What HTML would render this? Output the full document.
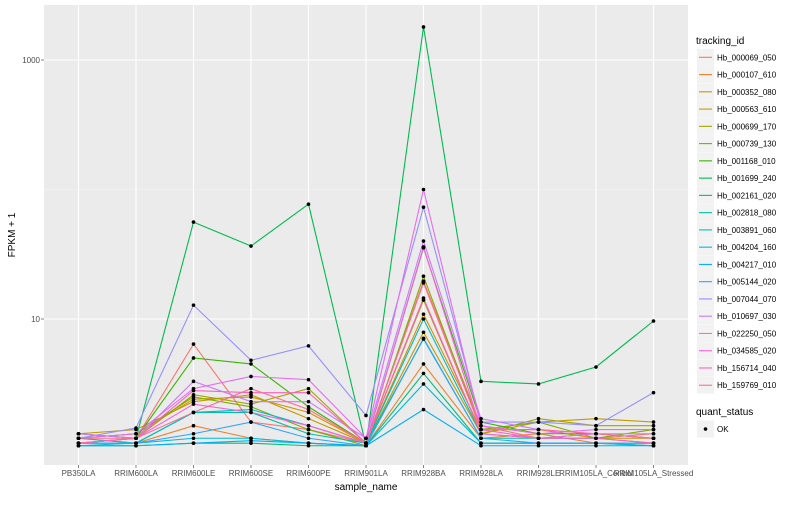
<!DOCTYPE html>
<html><head><meta charset="utf-8"><style>
body{margin:0;background:#fff;font-family:"Liberation Sans",sans-serif}
svg text{font-family:"Liberation Sans",sans-serif}
</style></head><body>
<svg id="c" width="800" height="500" xmlns="http://www.w3.org/2000/svg"></svg>
<script>
const categories=["PB350LA","RRIM600LA","RRIM600LE","RRIM600SE","RRIM600PE","RRIM901LA","RRIM928BA","RRIM928LA","RRIM928LE","RRIM105LA_Control","RRIM105LA_Stressed"];
const seriesNames=["Hb_000069_050","Hb_000107_610","Hb_000352_080","Hb_000563_610","Hb_000699_170","Hb_000739_130","Hb_001168_010","Hb_001699_240","Hb_002161_020","Hb_002818_080","Hb_003891_060","Hb_004204_160","Hb_004217_010","Hb_005144_020","Hb_007044_070","Hb_010697_030","Hb_022250_050","Hb_034585_020","Hb_156714_040","Hb_159769_010"];
const s0=[1.3,1.2,6.4,1.6,1.4,1.1,19.6,1.5,1.2,1.2,1.3];
const s1=[1.2,1.1,1.5,1.2,1.1,1.05,4.5,1.2,1.3,1.1,1.1];
const s2=[1.2,1.3,2.4,2.5,1.9,1.1,10.9,1.4,1.4,1.2,1.2];
const s3=[1.3,1.4,2.3,2.6,1.7,1.1,7.9,1.3,1.6,1.7,1.6];
const s4=[1.1,1.2,2.6,2.2,2.9,1.1,14,1.3,1.7,1.5,1.5];
const s5=[1.2,1.3,2.5,2.1,1.4,1.05,21.4,1.4,1.6,1.2,1.4];
const s6=[1.3,1.2,5.0,4.5,2.1,1.1,35.5,1.6,1.3,1.3,1.2];
const s7=[1.1,1.2,56,36.6,77,1.05,1800,3.3,3.15,4.26,9.65];
const s8=[1.05,1.05,1.1,1.1,1.05,1.05,3.8,1.1,1.1,1.1,1.05];
const s9=[1.1,1.1,1.9,1.9,1.3,1.1,7.0,1.2,1.2,1.2,1.1];
const s10=[1.2,1.1,1.9,2.0,1.5,1.1,10,1.3,1.2,1.3,1.2];
const s11=[1.05,1.1,1.2,1.2,1.1,1.05,3.15,1.1,1.1,1.1,1.05];
const s12=[1.05,1.05,1.1,1.15,1.1,1.05,2.0,1.05,1.05,1.05,1.05];
const s13=[1.1,1.1,1.3,1.6,1.2,1.05,7.1,1.2,1.1,1.1,1.1];
const s14=[1.2,1.44,12.8,4.8,6.2,1.8,73,1.6,1.6,1.5,2.7];
const s15=[1.3,1.2,3.3,2.3,2.3,1.2,40,1.7,1.4,1.3,1.3];
const s16=[1.2,1.3,2.9,3.6,3.4,1.2,100,1.5,1.3,1.4,1.4];
const s17=[1.1,1.2,2.2,1.9,1.5,1.1,36,1.4,1.2,1.3,1.2];
const s18=[1.1,1.2,2.8,2.7,2.7,1.1,14.5,1.3,1.2,1.2,1.1];
const s19=[1.2,1.2,1.9,2.9,2.0,1.1,19,1.4,1.4,1.3,1.2];
const seriesValues=[s0,s1,s2,s3,s4,s5,s6,s7,s8,s9,s10,s11,s12,s13,s14,s15,s16,s17,s18,s19];
const yTickValues=[10,1000];
const yTickLabels=["10","1000"];
const yMinorValues=[100];
const colors=["#F8766D","#EA8331","#D89000","#C09B00","#A3A500","#7CAE00","#39B600","#00BB4E","#00BF7D","#00C1A3","#00BFC4","#00BAE0","#00B0F6","#35A2FF","#9590FF","#C77CFF","#E76BF3","#FA62DB","#FF62BC","#FF6C91"];

const NS="http://www.w3.org/2000/svg";
const svg=document.getElementById('c');
const P={l:44,r:688,t:5,b:465};
const step=(P.r-P.l)/(categories.length-1+1.2);
const x=i=>P.l+step*0.6+i*step;
const y=v=>448.5-129.5*Math.log10(v);
function mk(t,a,p){const e=document.createElementNS(NS,t);for(const k in a)e.setAttribute(k,a[k]);(p||svg).appendChild(e);return e;}

const bg=mk('rect',{x:P.l,y:P.t,width:P.r-P.l,height:P.b-P.t,fill:'#EBEBEB'});


yMinorValues.forEach(v=>{const g=mk('line',{x1:P.l,x2:P.r,y1:y(v),y2:y(v),stroke:'#F5F5F5','stroke-width':0.6});

});
yTickValues.forEach((v,i)=>{const g=mk('line',{x1:P.l,x2:P.r,y1:y(v),y2:y(v),stroke:'#fff','stroke-width':1.1});


const t=mk('text',{x:P.l-4,y:y(v)+3,'text-anchor':'end','font-size':8,fill:'#4D4D4D'});t.textContent=yTickLabels[i];


const tk=mk('line',{x1:P.l-3,x2:P.l,y1:y(v),y2:y(v),stroke:'#333','stroke-width':0.6});

});
categories.forEach((c,i)=>{const g=mk('line',{x1:x(i),x2:x(i),y1:P.t,y2:P.b,stroke:'#fff','stroke-width':1.1});


const tk=mk('line',{x1:x(i),x2:x(i),y1:P.b,y2:P.b+3,stroke:'#333','stroke-width':0.6});


const t=mk('text',{x:x(i),y:P.b+11,'text-anchor':'middle','font-size':8,fill:'#4D4D4D'});t.textContent=c;

});
seriesValues.forEach((s,k)=>{const pl=mk('polyline',{points:s.map((v,i)=>x(i)+','+y(v)).join(' '),fill:'none',stroke:colors[k],'stroke-width':1.1});

});
seriesValues.forEach((s,k)=>s.forEach((v,i)=>{const d=mk('circle',{cx:x(i),cy:y(v),r:1.8,fill:'#000'});

}));
const xt=mk('text',{x:(P.l+P.r)/2,y:490,'text-anchor':'middle','font-size':10,fill:'#000'});xt.textContent='sample_name';


const yt=mk('text',{x:0,y:0,'text-anchor':'middle','font-size':10,fill:'#000',transform:'translate(15,'+((P.t+P.b)/2)+') rotate(-90)'});yt.textContent='FPKM + 1';


const lt=mk('text',{x:696,y:44,'font-size':10,fill:'#000'});lt.textContent='tracking_id';


seriesNames.forEach((n,k)=>{const cy=57.3+17.26*k;
const g=mk('g',{});


mk('rect',{x:697,y:cy-8.5,width:17,height:17,fill:'#F2F2F2'},g);
mk('line',{x1:699,x2:712,y1:cy,y2:cy,stroke:colors[k],'stroke-width':1.1},g);
const t=mk('text',{x:717,y:cy+3,'font-size':8,fill:'#000'},g);t.textContent=n;});
const qt=mk('text',{x:696,y:415,'font-size':10,fill:'#000'});qt.textContent='quant_status';


const qg=mk('g',{});


mk('rect',{x:697,y:420.5,width:17,height:17,fill:'#F2F2F2'},qg);
mk('circle',{cx:705.5,cy:429,r:1.8,fill:'#000'},qg);
const ok=mk('text',{x:717,y:432,'font-size':8,fill:'#000'},qg);ok.textContent='OK';
</script>
</body></html>
